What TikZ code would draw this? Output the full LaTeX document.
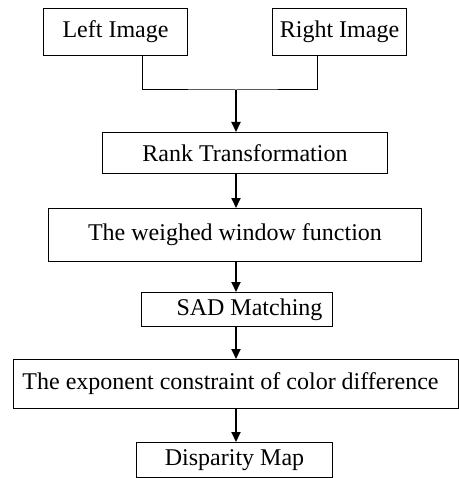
\documentclass[tikz,border=0pt]{standalone}
\usepackage{fontspec}
\setmainfont{Liberation Serif}
\usetikzlibrary{arrows.meta}
\begin{document}
\begin{tikzpicture}[x=1pt,y=1pt,
  box/.style={draw, line width=1pt, inner sep=0pt, anchor=north west, font=\fontsize{24}{24}\selectfont},
  arr/.style={line width=2pt, -{Triangle[length=10pt,width=9pt]}},
  link/.style={line width=1pt}]
\useasboundingbox (0,0) rectangle (458,-478);
\node[box, minimum width=144pt, minimum height=47pt] (left) at (43,-8) {Left Image};
\node[box, minimum width=134pt, minimum height=47pt] (right) at (272,-8) {Right Image};
\node[box, minimum width=285pt, minimum height=41pt] (rank) at (102,-132) {Rank Transformation};
\node[box, minimum width=373pt, minimum height=53pt] (weigh) at (48,-208) {The weighed window function};
\node[box, minimum width=191pt, minimum height=34pt] (sad) at (141,-292) {\hspace*{25pt}SAD Matching};
\node[box, minimum width=445pt, minimum height=49pt] (expo) at (13,-359) {The exponent constraint of color difference\hspace*{11pt}};
\node[box, minimum width=196pt, minimum height=35pt] (disp) at (136,-442) {Disparity Map};
\coordinate (j) at (236,-90);
\draw[link] ([xshift=27pt]left.south) |- (j) -| ([xshift=-22pt]right.south);
\draw[arr] (j) -- (rank.north -| j);
\draw[arr] (rank.south -| j) -- (weigh.north -| j);
\draw[arr] (weigh.south -| j) -- (sad.north -| j);
\draw[arr] (sad.south -| j) -- (expo.north -| j);
\draw[arr] (expo.south -| j) -- (disp.north -| j);
\end{tikzpicture}
\end{document}
